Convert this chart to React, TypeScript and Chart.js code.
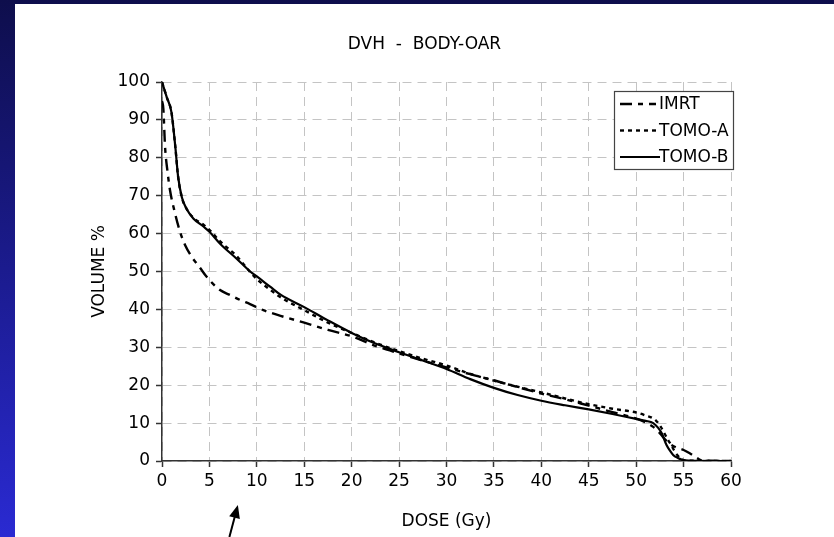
import React, { useEffect, useRef } from "react";
import { Chart, registerables } from "chart.js";

Chart.register(...registerables);

const TITLE = "DVH  -  BODY-OAR";
const X_TITLE = "DOSE (Gy)";
const Y_TITLE = "VOLUME %";
const SERIES_NAMES = ["IMRT", "TOMO-A", "TOMO-B"];

// dose (Gy) / volume (%) pairs
const IMRT_DOSE = [0, 0.14, 0.32, 0.6, 0.84, 1.37, 1.9, 2.43, 3.13, 4.0, 4.71, 6.12, 7.17, 8.23, 9.28, 10.68, 12.5, 15, 17.5, 20, 22.5, 25, 27.5, 30, 32.5, 35, 37.5, 40, 42.5, 45, 47.5, 50, 51, 51.8, 52.4, 52.8, 53.5, 54.2, 55, 55.6, 56.1, 56.6, 57, 60];
const IMRT_VOL = [95, 93, 83, 76, 71.5, 65.4, 60.5, 57, 53.9, 51, 48.6, 45.1, 43.8, 42.5, 41.4, 39.8, 38.3, 36.5, 34.6, 32.9, 30.4, 28.4, 26.5, 24.7, 22.9, 21.3, 19.5, 17.8, 16.3, 14.6, 12.9, 11.2, 10.2, 9.0, 7.6, 6.4, 4.6, 3.6, 2.9, 2.1, 1.3, 0.5, 0.1, 0];

const TOMOA_DOSE = [0, 0.5, 1.0, 1.4, 1.7, 2.1, 2.6, 3.3, 4.4, 5, 6.1, 7.9, 9.3, 10, 11.4, 12.5, 15, 17.5, 20, 22.5, 25, 27.5, 30, 32.5, 35, 37.5, 40, 42.5, 45, 47.5, 50, 51, 52, 52.6, 53, 53.4, 53.7, 54, 54.4, 54.8, 55.3, 60];
const TOMOA_VOL = [100, 96, 92, 83, 75, 69.5, 66.5, 64.2, 62.3, 61, 58, 54, 49.8, 48.0, 45.2, 43.2, 39.8, 36.5, 33.8, 31.2, 29, 27, 25.2, 23, 21.2, 19.6, 18.1, 16.5, 15, 13.8, 12.8, 12.0, 10.9, 9.0, 7.2, 5.4, 4.2, 2.8, 1.4, 0.4, 0.1, 0];

const TOMOB_DOSE = [0, 0.5, 1.0, 1.4, 1.7, 2.1, 2.6, 3.3, 4.4, 5, 6.1, 7.9, 9.3, 10, 11.4, 12.5, 15, 17.5, 20, 22.5, 25, 27.5, 30, 32.5, 35, 37.5, 40, 42.5, 45, 47.5, 50, 51, 51.8, 52.3, 52.7, 53.2, 53.6, 53.9, 54.4, 54.8, 55.5, 60];
const TOMOB_VOL = [100, 96, 92, 83, 75, 69.5, 66.5, 64, 61.8, 60.5, 57.4, 53.3, 50.0, 48.7, 46.0, 43.9, 40.6, 37.1, 33.8, 31, 28.7, 26.5, 24.3, 21.6, 19.3, 17.4, 15.9, 14.7, 13.6, 12.4, 11.1, 10.6, 10.0, 8.8, 7.3, 4.2, 2.6, 1.6, 0.8, 0.4, 0.1, 0];

const X_MIN = 0;
const X_MAX = 60;
const X_STEP = 5;
const Y_MIN = 0;
const Y_MAX = 100;
const Y_STEP = 10;

// arrow annotation below the x axis (dose values)
const ARROW_TIP_DOSE = 8;
const ARROW_TAIL_DOSE = 7;

const FONT = "'DejaVu Sans', Verdana, sans-serif";
const FS = 17;

const pts = (xs: number[], ys: number[]) => xs.map((x, i) => ({ x, y: ys[i] }));

const legendPlugin = {
  id: "boxLegend",
  afterDraw(chart: any) {
    const { ctx, chartArea } = chart;
    const x0 = chartArea.right - 117;
    const y0 = chartArea.top + 9;
    const w = 119;
    const h = 78;
    ctx.save();
    ctx.fillStyle = "#ffffff";
    ctx.fillRect(x0, y0, w, h);
    ctx.strokeStyle = "#444";
    ctx.lineWidth = 1.2;
    ctx.strokeRect(x0 + 0.5, y0 + 0.5, w, h);
    ctx.font = `${FS}px ${FONT}`;
    ctx.textBaseline = "middle";
    ctx.textAlign = "left";
    chart.data.datasets.forEach((ds: any, i: number) => {
      const yy = y0 + 13 + i * 26.5;
      ctx.beginPath();
      ctx.setLineDash(ds.borderDash || []);
      ctx.lineWidth = ds.borderWidth;
      ctx.strokeStyle = ds.borderColor;
      ctx.moveTo(x0 + 6, yy);
      ctx.lineTo(x0 + (ds.borderDash && ds.borderDash.length ? 42 : 46), yy);
      ctx.stroke();
      ctx.setLineDash([]);
      ctx.fillStyle = "#000";
      ctx.fillText(ds.label, x0 + 45, yy + 1);
    });
    ctx.restore();
  },
};

const arrowPlugin = {
  id: "arrowNote",
  afterDraw(chart: any) {
    const { ctx, chartArea, scales } = chart;
    const tipX = scales.x.getPixelForValue(ARROW_TIP_DOSE);
    const tipY = chartArea.bottom + 44;
    const tailX = scales.x.getPixelForValue(ARROW_TAIL_DOSE) + 1;
    const tailY = chart.height;
    const ang = Math.atan2(tipY - tailY, tipX - tailX);
    const len = 13;
    const half = 5.5;
    ctx.save();
    ctx.strokeStyle = "#000";
    ctx.fillStyle = "#000";
    ctx.lineWidth = 2;
    ctx.beginPath();
    ctx.moveTo(tailX, tailY);
    ctx.lineTo(tipX - Math.cos(ang) * (len - 2), tipY - Math.sin(ang) * (len - 2));
    ctx.stroke();
    const bx = tipX - Math.cos(ang) * len;
    const by = tipY - Math.sin(ang) * len;
    ctx.beginPath();
    ctx.moveTo(tipX, tipY);
    ctx.lineTo(bx + Math.cos(ang + Math.PI / 2) * half, by + Math.sin(ang + Math.PI / 2) * half);
    ctx.lineTo(bx - Math.cos(ang + Math.PI / 2) * half, by - Math.sin(ang + Math.PI / 2) * half);
    ctx.closePath();
    ctx.fill();
    ctx.restore();
  },
};

export default function App() {
  const ref = useRef<HTMLCanvasElement | null>(null);

  useEffect(() => {
    if (!ref.current) return;
    const lineBase = {
      borderColor: "#000",
      pointRadius: 0,
      cubicInterpolationMode: "monotone",
      borderCapStyle: "butt",
    };
    const chart = new Chart(ref.current, {
      type: "line",
      data: {
        datasets: [
          {
            ...lineBase,
            label: SERIES_NAMES[0],
            data: pts(IMRT_DOSE, IMRT_VOL),
            borderWidth: 2.4,
            borderDash: [12, 6, 5, 6],
            order: 2,
          },
          {
            ...lineBase,
            label: SERIES_NAMES[1],
            data: pts(TOMOA_DOSE, TOMOA_VOL),
            borderWidth: 2.4,
            borderDash: [4, 4],
            order: 1,
          },
          {
            ...lineBase,
            label: SERIES_NAMES[2],
            data: pts(TOMOB_DOSE, TOMOB_VOL),
            borderWidth: 2.2,
            borderDash: [],
            order: 0,
          },
        ],
      },
      options: {
        responsive: false,
        animation: false,
        layout: { padding: 0 },
        plugins: {
          legend: { display: false },
          tooltip: { enabled: false },
          title: {
            display: true,
            text: TITLE,
            color: "#000",
            font: { family: FONT, size: FS, weight: "normal", lineHeight: 1.2 },
            padding: { top: 30.8, bottom: 26.8 },
          },
        },
        scales: {
          x: {
            type: "linear",
            min: X_MIN,
            max: X_MAX,
            ticks: { stepSize: X_STEP, color: "#000", font: { family: FONT, size: FS }, padding: 4, maxRotation: 0 },
            grid: { color: "#c4c4c4", lineWidth: 1, tickLength: 6, tickColor: "#333", tickWidth: 1.5 },
            border: { display: true, color: "#333", width: 1.5, dash: [9, 6] },
            title: {
              display: true,
              text: X_TITLE,
              color: "#000",
              font: { family: FONT, size: FS, lineHeight: 1.2 },
              padding: { top: 0, bottom: 4.8 },
            },
            afterFit: (s: any) => {
              s.height = 76;
            },
          },
          y: {
            type: "linear",
            min: Y_MIN,
            max: Y_MAX,
            ticks: { stepSize: Y_STEP, color: "#000", font: { family: FONT, size: FS }, padding: 6 },
            grid: { color: "#c4c4c4", lineWidth: 1, tickLength: 6, tickColor: "#333", tickWidth: 1.5 },
            border: { display: true, color: "#333", width: 1.5, dash: [9, 6] },
            title: {
              display: true,
              text: Y_TITLE,
              color: "#000",
              font: { family: FONT, size: FS, lineHeight: 1.2 },
              padding: { top: 74.8, bottom: 0 },
            },
            afterFit: (s: any) => {
              s.width = 147;
            },
          },
          yRight: {
            type: "linear",
            position: "right",
            display: true,
            ticks: { display: false },
            grid: { display: false, drawTicks: false },
            border: { display: false },
            title: { display: false },
            afterFit: (s: any) => {
              s.width = 103;
            },
          },
        },
      },
      plugins: [legendPlugin, arrowPlugin],
    } as any);
    return () => chart.destroy();
  }, []);

  return (
    <div
      style={{
        position: "relative",
        width: 834,
        height: 537,
        overflow: "hidden",
        background: "linear-gradient(180deg, #0e0e4c 0%, #1b1b8e 50%, #2a2ad2 100%)",
      }}
    >
      <style>{"body{margin:0}"}</style>
      <div style={{ position: "absolute", left: 15, top: 4, width: 819, height: 533, background: "#fff" }}>
        <canvas ref={ref} width={819} height={533} style={{ display: "block" }} />
      </div>
    </div>
  );
}
